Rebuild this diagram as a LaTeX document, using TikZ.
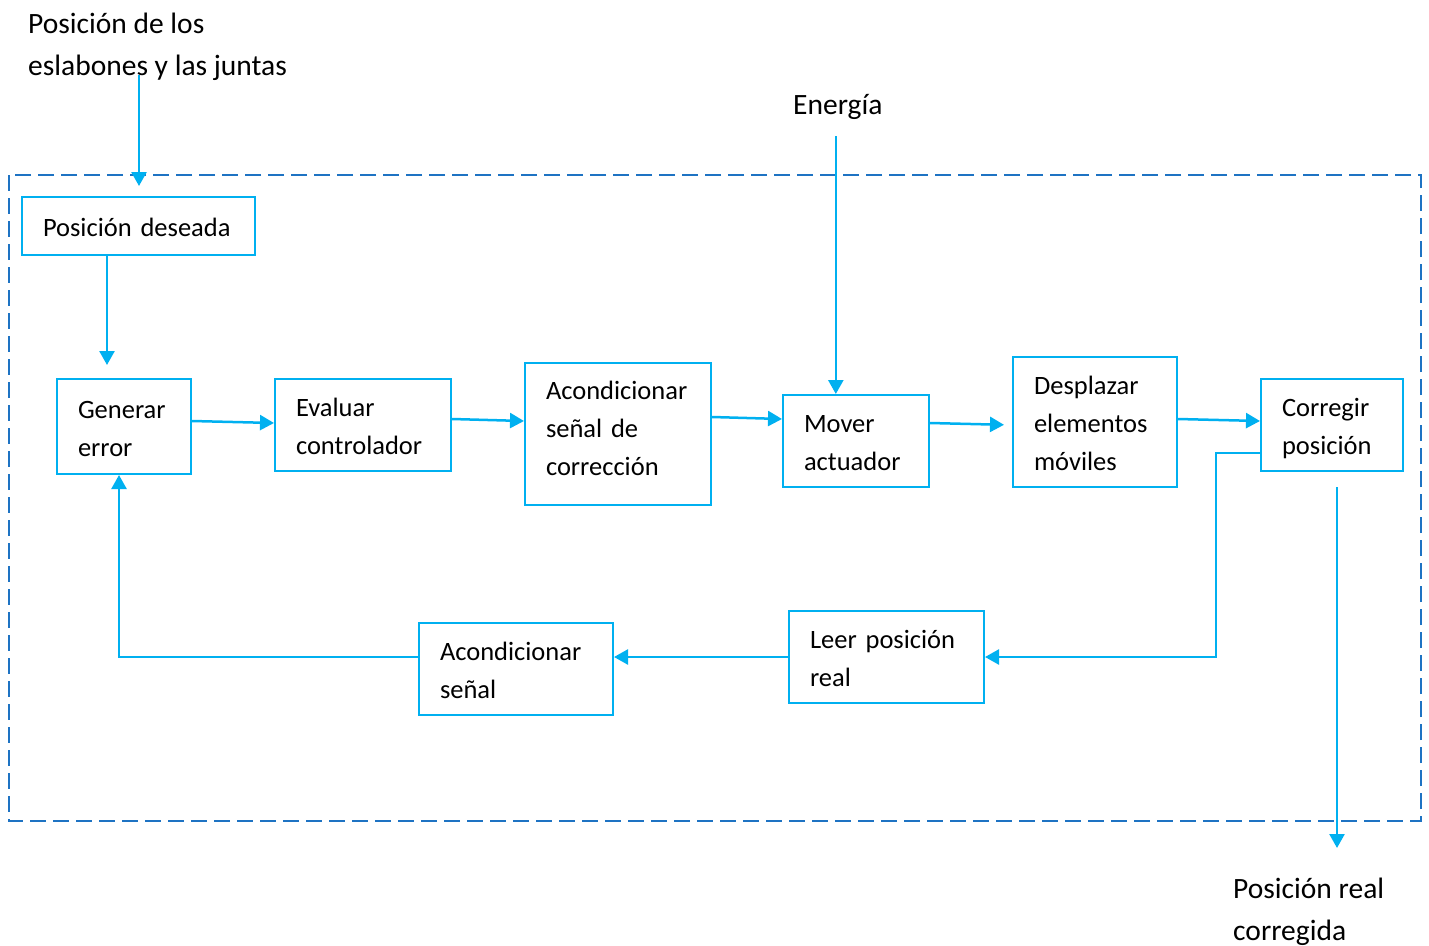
\documentclass[tikz,border=0pt]{standalone}
\usepackage{fontspec}
\setmainfont{Carlito}
\usetikzlibrary{arrows.meta}
\definecolor{lineblue}{HTML}{00B0F0}
\definecolor{dashblue}{RGB}{30,115,195}
\newcommand\lstrut{\rule[-8.4pt]{0pt}{38pt}}
\tikzset{
  box/.style={draw=lineblue, line width=2pt, inner xsep=21pt, inner ysep=0pt,
    align=left, font=\fontsize{26.5}{38}\selectfont},
  freetext/.style={inner sep=0pt, align=left, font=\fontsize{29.5}{42}\selectfont},
  arr/.style={draw=lineblue, line width=2.5pt,
    -{Triangle[length=14pt,width=15pt]}},
  frame/.style={draw=dashblue, line width=2.5pt, dash pattern=on 16pt off 7pt}
}
\begin{document}
\begin{tikzpicture}[x=1pt,y=-1pt]
\useasboundingbox (0,0) rectangle (1429,945);
% dashed frame
\draw[frame] (9,175) rectangle (1421,821);
% free texts
\node[freetext, anchor=north west] (top) at (28,3.5) {\strut Posición de los\\\strut eslabones y las juntas};
\node[freetext, anchor=base west] (en) at (793,114) {Energía};
\node[freetext, anchor=north west] (outtxt) at (1233,868.5) {\strut Posición real\\\strut corregida};
% boxes
\node[box, minimum width=233pt, minimum height=58pt, text width=191pt] (pd) at (138.5,226) {\lstrut\mbox{Posición deseada}};
\node[box, minimum width=134pt, minimum height=95pt, text width=92pt] (ge) at (124,426.5) {\lstrut Generar\\\lstrut error};
\node[box, minimum width=176pt, minimum height=92pt, text width=134pt] (ev) at (363,425) {\lstrut Evaluar\\\lstrut controlador};
\node[box, minimum width=186pt, minimum height=142pt, text width=144pt] (ac) at (618,434) {\lstrut Acondicionar\\\lstrut \mbox{señal de}\\\lstrut corrección\rule[-22.8pt]{0pt}{1pt}};
\node[box, minimum width=146pt, minimum height=92pt, text width=104pt] (ma) at (856,441) {\lstrut Mover\\\lstrut actuador};
\node[box, minimum width=164pt, minimum height=130pt, text width=122pt] (de) at (1095,422) {\lstrut Desplazar\\\lstrut elementos\\\lstrut móviles};
\node[box, minimum width=142pt, minimum height=92pt, text width=100pt] (cp) at (1332,425) {\lstrut Corregir\\\lstrut posición};
\node[box, minimum width=195pt, minimum height=92pt, text width=153pt] (lp) at (886.5,657) {\lstrut\mbox{Leer posición}\\\lstrut real};
\node[box, minimum width=194pt, minimum height=92pt, text width=152pt] (as) at (516,669) {\lstrut Acondicionar\\\lstrut señal};
% coordinates for free ends
\coordinate (in1) at (139,75);
\coordinate (in1e) at (139,186);
\coordinate (outs) at (1337,487);
\coordinate (oute) at (1337,848);
% connectors
\draw[arr] (in1) -- (in1e);
\draw[arr, shorten >=13pt] ([xshift=-31.5pt]pd.south) -- ([xshift=-31.5pt]pd.south |- ge.north);
\draw[arr] ([yshift=5.5pt]ge.east) -- ([yshift=2pt]ev.west);
\draw[arr] ([yshift=6pt]ev.east) -- ([yshift=13pt]ac.west);
\draw[arr] ([yshift=17pt]ac.east) -- ([yshift=22pt]ma.west);
\draw[arr, shorten >=8pt] ([yshift=18pt]ma.east) -- ([yshift=-3pt]de.west);
\draw[arr] ([yshift=3pt]de.east) -- ([yshift=4pt]cp.west);
\draw[arr] ([xshift=-2pt,yshift=-17pt]en.south) -- ([xshift=-2pt]en.south |- ma.north);
\draw[arr] ([yshift=-28pt]cp.west) -- ++(-44,0) |- (lp.east);
\draw[arr] (lp.west) -- (lp.west -| as.east);
\draw[arr] ([yshift=12pt]as.west) -| ([xshift=-5pt]ge.south);
\draw[arr] (outs) -- (oute);
\end{tikzpicture}
\end{document}
